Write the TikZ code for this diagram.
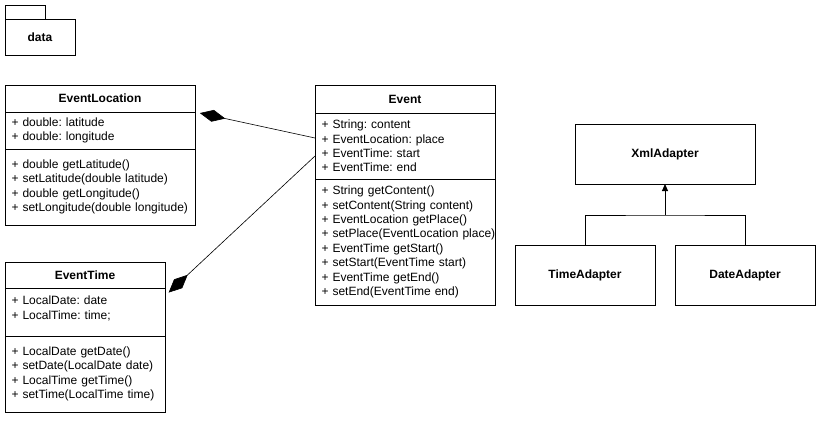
\documentclass[tikz,border=0pt]{standalone}
\usepackage{fontspec}
\setmainfont{Liberation Sans}
\usetikzlibrary{arrows.meta}
\frenchspacing

\def\pkgTab{(5, 5) rectangle (45, 19)}
\colorlet{class edge}{black}
\colorlet{link line}{black}
\tikzset{
  part/.style 2 args={draw=class edge, line width=1pt, minimum width=#1, minimum height=#2,
    text width=#1-13, inner xsep=6.5pt, inner ysep=0pt, outer sep=0pt, anchor=north west,
    align=left, font=\fontsize{12}{14.4}\selectfont},
  title/.style={align=center, font=\fontsize{12}{14.4}\selectfont\bfseries},
  outline/.style={draw=class edge, line width=1pt}
  }
\tikzstyle{edge} = [draw=class edge, line width=1pt]
\tikzstyle{compose} = [draw=link line, line width=0.6pt, -{Diamond[length=26pt, width=12pt]}, shorten >=5pt]
\tikzstyle{inherit} = [edge, -{Triangle[length=7pt, width=6pt]}]

\begin{document}
\begin{tikzpicture}[x=1pt, y=-1pt]
  \path[use as bounding box, fill=white] (0, 0) rectangle (821, 421);

  % package
  \draw[outline] \pkgTab;
  \node[part={70}{36}, title] (data) at (5, 19) {data};

  % EventLocation
  \node[part={190}{27}, title] (lochead) at (5, 85) {EventLocation};
  \node[part={190}{37}] (locattr) at (5, 112) {+ double: latitude\\+ double: longitude};
  \node[part={190}{76}] (locmeth) at (5, 149) {+ double getLatitude()\\+ setLatitude(double latitude)\\
    + double getLongitude()\\+ setLongitude(double longitude)};

  % Event
  \node[part={180}{28}, title] (evhead) at (315, 85) {Event};
  \node[part={180}{66}] (evattr) at (315, 113) {+ String: content\\+ EventLocation: place\\
    + EventTime: start\\+ EventTime: end};
  \node[part={180}{126}] (evmeth) at (315, 179) {+ String getContent()\\+ setContent(String content)\\
    + EventLocation getPlace()\\\mbox{+ setPlace(EventLocation place)}\\+ EventTime getStart()\\
    + setStart(EventTime start)\\+ EventTime getEnd()\\+ setEnd(EventTime end)};

  % EventTime
  \node[part={160}{26}, title] (timehead) at (5, 262) {EventTime};
  \node[part={160}{48}] (timeattr) at (5, 288) {+ LocalDate: date\\+ LocalTime: time;\\[-6pt]\mbox{}};
  \node[part={160}{76}] (timemeth) at (5, 336) {+ LocalDate getDate()\\+ setDate(LocalDate date)\\
    + LocalTime getTime()\\+ setTime(LocalTime time)};

  % adapters
  \foreach \pos/\w/\name/\txt in {{(575, 124)/180/xml/XmlAdapter},
      {(515, 245)/140/timead/TimeAdapter}, {(675, 245)/140/datead/DateAdapter}} {
    \node[part={\w}{60}, title] (\name) at \pos {\txt};
  }

  \path[compose] ([yshift=8pt]evattr.west) -- (lochead.south east);
  \path[compose] ([yshift=-10pt]evattr.west) -- ([yshift=-8pt]timeattr.north east);

  \coordinate (split) at (665, 215);
  \path[edge] (timead.north) |- (split) -| (datead.north);
  \path[inherit] (split) -- (xml.south);
\end{tikzpicture}
\end{document}
